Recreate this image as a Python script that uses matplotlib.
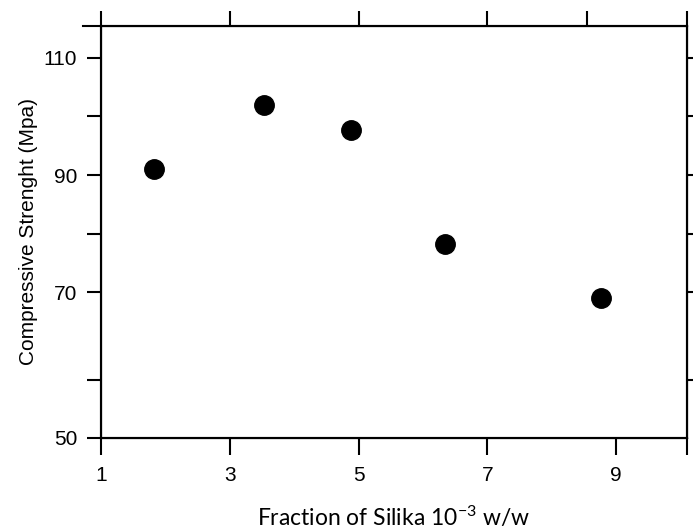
import numpy as np
import matplotlib
matplotlib.use("Agg")
import matplotlib.pyplot as plt

plt.rcParams['font.family'] = ['Liberation Sans', 'DejaVu Sans']
plt.rcParams['mathtext.default'] = 'regular'

# datos
silika = [1.82, 3.53, 4.89, 6.35, 8.77]
resistencia = [91.0, 102.0, 97.6, 78.3, 69.2]

x_ticks = [1, 3, 5, 7, 9]
x_top_ticks = [1, 3, 5, 7, 8.55, 10.1]
y_major = [50, 70, 90, 110]
y_minor = [58, 80, 100]

# eje y estirado por debajo de 70 (como en la figura original)
k = 145 / 117

def fwd(v):
    v = np.asarray(v, dtype=float)
    return np.where(v >= 70, v, 70 - (70 - v) * k)

def inv(u):
    u = np.asarray(u, dtype=float)
    return np.where(u >= 70, u, 70 - (70 - u) / k)

fig = plt.figure(figsize=(6.93, 5.30), dpi=100)
ax = fig.add_axes([0.1457, 0.1736, 0.8456, 0.7774])

ax.plot(silika, resistencia, 'o', color='black', markersize=14, clip_on=False)

ax.set_xlim(1, 10.1)
ax.set_yscale('function', functions=(fwd, inv))
ax.set_ylim(50, 115.4)

ax.set_xticks(x_ticks)
ax.set_xticks([10.1], minor=True)
ax.set_yticks(y_major)
ax.set_yticks(y_minor, minor=True)
ax.tick_params(axis='x', which='both', direction='out', length=12, width=1.5,
               labelsize=15, pad=8)
ax.tick_params(axis='y', which='both', direction='out', length=10, width=1.5,
               labelsize=15, pad=7)

for s in ax.spines.values():
    s.set_linewidth(1.5)

# ticks del lado derecho
ax2 = ax.twinx()
ax2.set_yscale('function', functions=(fwd, inv))
ax2.set_ylim(ax.get_ylim())
ax2.set_yticks(y_major[1:] + y_minor[1:] + [58])
ax2.tick_params(axis='y', direction='out', length=5, width=1.5, labelright=False)
for s in ax2.spines.values():
    s.set_linewidth(1.5)

# ticks superiores
ax3 = ax.twiny()
ax3.set_xlim(ax.get_xlim())
ax3.set_xticks(x_top_ticks)
ax3.tick_params(axis='x', direction='out', length=11, width=1.5, labeltop=False)
ax3.plot([-0.03, 0], [1, 1], transform=ax.transAxes, color='black', lw=1.5, clip_on=False)

ax.set_ylabel("Compressive Strenght (Mpa)", fontsize=15, labelpad=4)
ax.set_xlabel("Fraction of Silika 10$^{-3}$ w/w", fontsize=16.5,
              family=['Lato', 'DejaVu Sans'], labelpad=14)

fig.savefig("out.png", dpi=100)
